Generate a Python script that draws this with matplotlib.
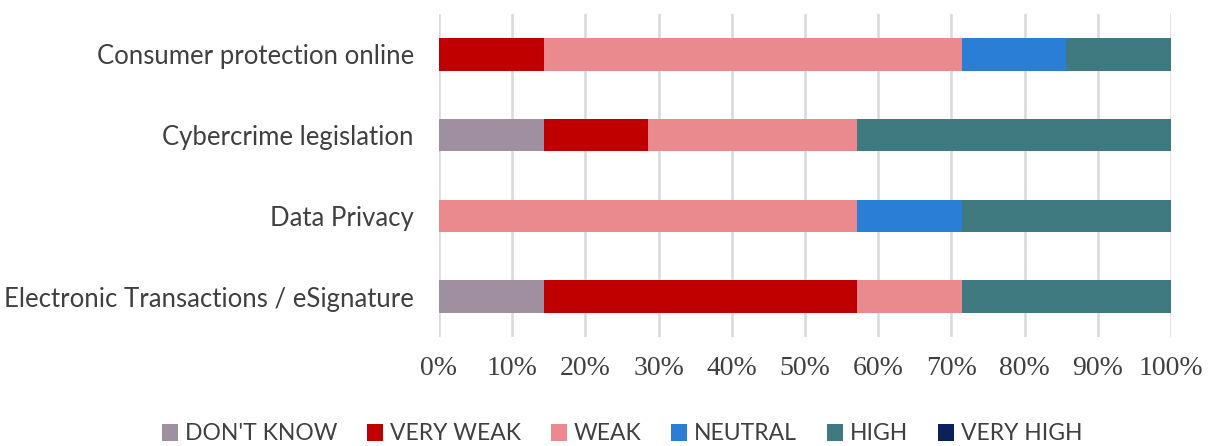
import matplotlib.pyplot as plt
import numpy as np
from matplotlib.ticker import PercentFormatter

# share of responses per area (out of 7 respondents)
areas = ["Consumer protection online", "Cybercrime legislation",
         "Data Privacy", "Electronic Transactions / eSignature"]
levels = ["DON'T KNOW", "VERY WEAK", "WEAK", "NEUTRAL", "HIGH", "VERY HIGH"]
dont_know = [0, 1/7, 0, 1/7]
very_weak = [1/7, 1/7, 0, 3/7]
weak = [4/7, 2/7, 4/7, 1/7]
neutral = [1/7, 0, 1/7, 0]
high = [1/7, 3/7, 2/7, 2/7]
very_high = [0, 0, 0, 0]
colors = ["#A08FA0", "#C00000", "#EA8A8E", "#2A7ED6", "#3F7A80", "#0D1F5C"]

series = [dont_know, very_weak, weak, neutral, high, very_high]

fig = plt.figure(figsize=(12.1, 4.46), dpi=100)
ax = fig.add_axes([0.3628, 0.2444, 0.605, 0.7242])

y = np.arange(len(areas))
left = np.zeros(len(areas))
handles = []
for name, vals, c in zip(levels, series, colors):
    vals = np.array(vals)
    b = ax.barh(y, vals, left=left, height=0.4, color=c, label=name, zorder=3)
    handles.append(b)
    left += vals

ax.set_ylim(len(areas) - 0.5, -0.5)
ax.set_xlim(0, 1)
ax.set_xticks(np.linspace(0, 1, 11))
ax.xaxis.set_major_formatter(PercentFormatter(1.0, decimals=0))
ax.grid(axis="x", color="#D9D9D9", linewidth=1.8, zorder=0)
for s in ax.spines.values():
    s.set_visible(False)
ax.tick_params(length=0)
ax.set_yticks(y)
ax.set_yticklabels(areas, fontfamily="Lato", fontsize=18.5, color="#404040")
ax.tick_params(axis="y", pad=18)
ax.tick_params(axis="x", pad=14)
for lab in ax.get_xticklabels():
    lab.set_fontfamily("Liberation Serif")
    lab.set_fontsize(20)
    lab.set_color("#404040")

leg = fig.legend(handles=handles, labels=levels, loc="center", ncol=6,
                 bbox_to_anchor=(0.514, 1 - 434 / 446), frameon=False,
                 handlelength=0.7, handleheight=0.7, handletextpad=0.3,
                 columnspacing=1.3, prop={"family": "Lato", "size": 16.5})
for t in leg.get_texts():
    t.set_color("#404040")

fig.savefig("out.png", dpi=100)
